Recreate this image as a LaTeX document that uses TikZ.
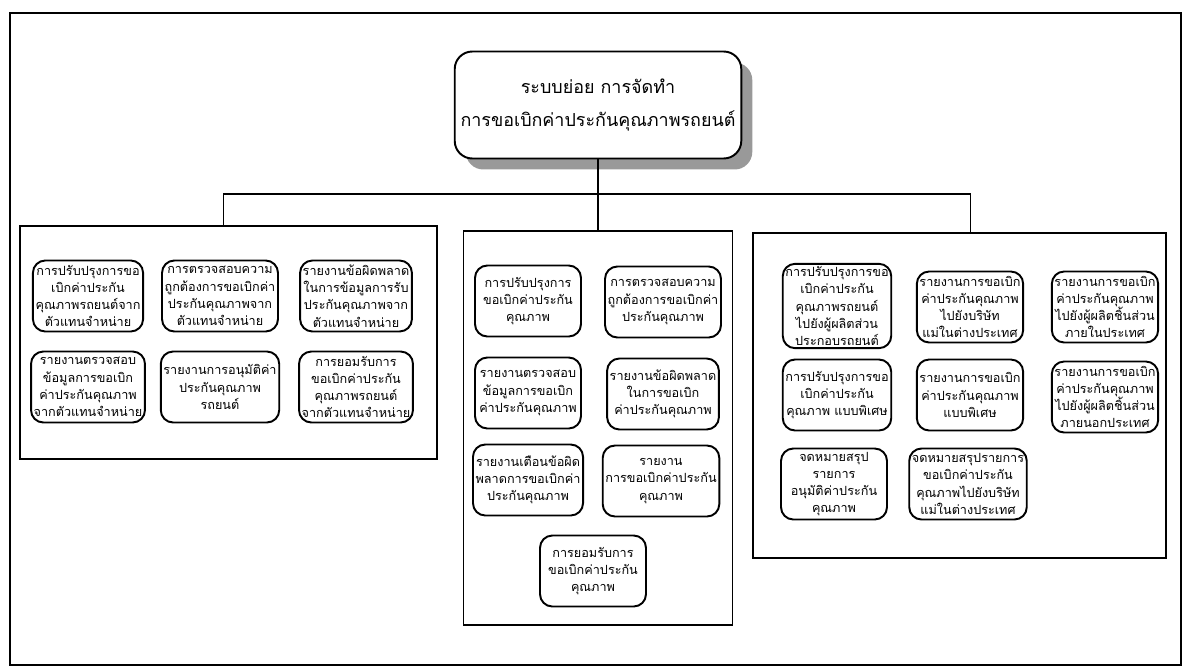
\documentclass[tikz,border=0pt]{standalone}
\usepackage{fontspec}
\newfontfamily\thaifont[Script=Thai]{Loma}
\usetikzlibrary{shadows}

\begin{document}
\begin{tikzpicture}[x=0.02cm, y=-0.02cm,
	grp/.style={draw, line width=0.8pt, inner sep=0pt},
	sub/.style={draw, line width=1.1pt, rounded corners=7pt, align=center, inner sep=1.5pt, minimum width=2.12cm, minimum height=1.42cm, font=\thaifont\fontsize{7.2}{9.8}\selectfont},
	head/.style={draw, line width=1.1pt, rounded corners=10pt, fill=white, align=center, minimum width=5.4cm, minimum height=2.14cm, font=\thaifont\fontsize{10.2}{18.5}\selectfont, drop shadow={shadow xshift=0.22cm, shadow yshift=-0.22cm, fill=black!40, opacity=1}}]
	\useasboundingbox (0,0) rectangle (1187,670);
	\draw[line width=0.8pt] (10,13) rectangle (1181,665);

	\node[head] (top) at (598,105) {ระบบย่อย การจัดทำ\\การขอเบิกค่าประกันคุณภาพรถยนต์};

	\node[grp, minimum width=8.34cm, minimum height=4.66cm] (leftgrp) at (228.5,342.5) {};
	\node[grp, minimum width=5.38cm, minimum height=7.88cm] (midgrp) at (598,428) {};
	\node[grp, minimum width=8.26cm, minimum height=6.5cm] (rightgrp) at (959.5,395.5) {};

	\coordinate (bus) at (598,194);
	\draw[line width=0.8pt] (top.south) -- (bus);
	\draw[line width=0.8pt] ([xshift=-0.1cm]leftgrp.north) |- (bus) -| ([xshift=0.22cm]rightgrp.north);
	\draw[line width=0.8pt] (bus) -- (midgrp.north);

	\node[sub] (l1) at (88,296) {การปรับปรุงการขอ\\เบิกค่าประกัน\\คุณภาพรถยนต์จาก\\ตัวแทนจำหน่าย};
	\node[sub] (l2) at (220,296) {การตรวจสอบความ\\ถูกต้องการขอเบิกค่า\\ประกันคุณภาพจาก\\ตัวแทนจำหน่าย};
	\node[sub] (l3) at (356,296) {รายงานข้อผิดพลาด\\ในการข้อมูลการรับ\\ประกันคุณภาพจาก\\ตัวแทนจำหน่าย};
	\node[sub] (l4) at (88,387) {รายงานตรวจสอบ\\ข้อมูลการขอเบิก\\ค่าประกันคุณภาพ\\จากตัวแทนจำหน่าย};
	\node[sub] (l5) at (220,387) {รายงานการอนุมัติค่า\\ประกันคุณภาพ\\รถยนต์};
	\node[sub] (l6) at (356,387) {การยอมรับการ\\ขอเบิกค่าประกัน\\คุณภาพรถยนต์\\จากตัวแทนจำหน่าย};

	\node[sub] (m1) at (528,301) {การปรับปรุงการ\\ขอเบิกค่าประกัน\\คุณภาพ};
	\node[sub] (m2) at (663,302) {การตรวจสอบความ\\ถูกต้องการขอเบิกค่า\\ประกันคุณภาพ};
	\node[sub] (m3) at (528,393) {รายงานตรวจสอบ\\ข้อมูลการขอเบิก\\ค่าประกันคุณภาพ};
	\node[sub] (m4) at (663,394) {รายงานข้อผิดพลาด\\ในการขอเบิก\\ค่าประกันคุณภาพ};
	\node[sub] (m5) at (528,480) {รายงานเตือนข้อผิด\\พลาดการขอเบิกค่า\\ประกันคุณภาพ};
	\node[sub] (m6) at (661,481) {รายงาน\\การขอเบิกค่าประกัน\\คุณภาพ};
	\node[sub] (m7) at (593,571) {การยอมรับการ\\ขอเบิกค่าประกัน\\คุณภาพ};

	\node[sub] (r1) at (837,306) {การปรับปรุงการขอ\\เบิกค่าประกัน\\คุณภาพรถยนต์\\ไปยังผู้ผลิตส่วน\\ประกอบรถยนต์};
	\node[sub] (r2) at (970,307) {รายงานการขอเบิก\\ค่าประกันคุณภาพ\\ไปยังบริษัท\\แม่ในต่างประเทศ};
	\node[sub] (r3) at (1105,307) {รายงานการขอเบิก\\ค่าประกันคุณภาพ\\ไปยังผู้ผลิตชิ้นส่วน\\ภายในประเทศ};
	\node[sub] (r4) at (837,395) {การปรับปรุงการขอ\\เบิกค่าประกัน\\คุณภาพ แบบพิเศษ};
	\node[sub] (r5) at (970,395) {รายงานการขอเบิก\\ค่าประกันคุณภาพ\\แบบพิเศษ};
	\node[sub] (r6) at (1105,397) {รายงานการขอเบิก\\ค่าประกันคุณภาพ\\ไปยังผู้ผลิตชิ้นส่วน\\ภายนอกประเทศ};
	\node[sub] (r7) at (834,484) {จดหมายสรุป\\รายการ\\อนุมัติค่าประกัน\\คุณภาพ};
	\node[sub] (r8) at (968,484) {จดหมายสรุปรายการ\\ขอเบิกค่าประกัน\\คุณภาพไปยังบริษัท\\แม่ในต่างประเทศ};
\end{tikzpicture}
\end{document}
